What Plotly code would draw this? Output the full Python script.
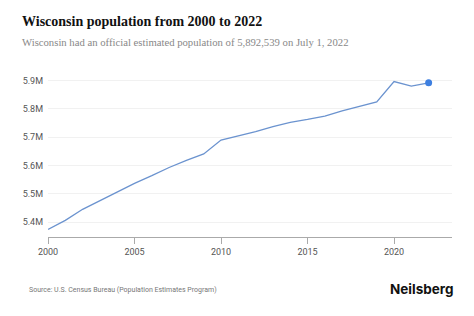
import plotly.graph_objects as go

years = list(range(2000, 2023))
population = [5374000, 5406000, 5445000, 5476000, 5508000, 5537000, 5564000, 5593000,
              5618000, 5641000, 5690000, 5705000, 5720000, 5738000, 5753000, 5763000,
              5775000, 5793000, 5810000, 5825000, 5897000, 5881000, 5892539]
y_ticks = [5400000, 5500000, 5600000, 5700000, 5800000, 5900000]
y_tick_labels = ["5.4M", "5.5M", "5.6M", "5.7M", "5.8M", "5.9M"]
x_ticks = [2000, 2005, 2010, 2015, 2020]

fig = go.Figure()
fig.add_trace(go.Scatter(x=years, y=population, mode="lines",
                         line=dict(color="#6b93cf", width=1.3), hoverinfo="skip"))
fig.add_trace(go.Scatter(x=[years[-1]], y=[population[-1]], mode="markers",
                         marker=dict(color="#3d7fe0", size=7), hoverinfo="skip"))

fig.update_layout(
    width=474, height=316,
    margin=dict(l=47.5, r=22, t=70, b=79.3),
    paper_bgcolor="white", plot_bgcolor="white",
    showlegend=False,
    xaxis=dict(range=[2000, 2023.35], tickvals=x_ticks, ticktext=[str(v) for v in x_ticks],
               showgrid=False, zeroline=False, showline=True, linecolor="#aaaaaa", linewidth=1,
               ticks="outside", ticklen=6, tickcolor="#aaaaaa",
               tickfont=dict(family="Roboto", size=9, color="#555555")),
    yaxis=dict(range=[5347000, 5938000], tickvals=y_ticks, ticktext=y_tick_labels,
               showgrid=True, gridcolor="#f1f1f1", zeroline=False, showline=False,
               ticks="", ticklabelstandoff=4,
               tickfont=dict(family="Roboto", size=9, color="#555555")),
)

fig.add_annotation(text="<b>Wisconsin population from 2000 to 2022</b>", xref="paper", yref="paper",
                   x=0, y=1, xanchor="left", yanchor="middle",
                   xshift=-28, yshift=49,
                   showarrow=False, font=dict(family="Liberation Serif", size=14, color="#111111"))
fig.add_annotation(text="Wisconsin had an official estimated population of 5,892,539 on July 1, 2022",
                   xref="paper", yref="paper", x=0, y=1, xanchor="left", yanchor="middle",
                   xshift=-28, yshift=28,
                   showarrow=False, font=dict(family="Liberation Serif", size=10.7, color="#888888"))
fig.add_annotation(text="Source: U.S. Census Bureau (Population Estimates Program)",
                   xref="paper", yref="paper", x=0, y=0, xanchor="left", yanchor="middle",
                   xshift=-21.5, yshift=-(290 - 236.7),
                   showarrow=False, font=dict(family="Roboto", size=7, color="#777777"))
fig.add_annotation(text="<b>Neilsberg</b>", xref="paper", yref="paper", x=1, y=0,
                   xanchor="right", yanchor="middle", xshift=3, yshift=-(289 - 236.7),
                   showarrow=False, font=dict(family="Inter, Roboto", size=13.5, color="#111111"))

fig.write_html("out.html")
